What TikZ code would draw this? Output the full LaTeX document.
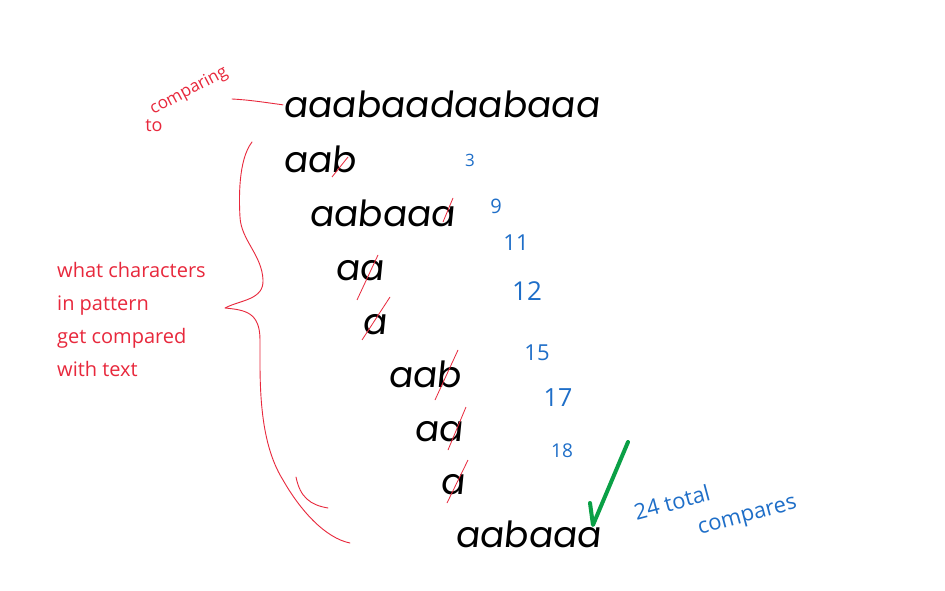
\documentclass[tikz,border=0pt]{standalone}
\usepackage{fontspec}
\newfontfamily\hand[FakeSlant=0.1]{Poppins}
\newfontfamily\note{Open Sans}
\definecolor{inkred}{RGB}{232,40,60}
\definecolor{inkblue}{RGB}{30,110,200}
\definecolor{inkgreen}{RGB}{10,160,70}
\tikzset{
  row/.style={anchor=base west, inner sep=0pt, font=\hand\fontsize{36}{36}\selectfont},
  num/.style={text=inkblue, inner sep=0pt, font=\note\fontsize{22}{22}\selectfont},
  rednote/.style={text=inkred, inner sep=0pt, font=\note\fontsize{20}{33}\selectfont, align=left},
  strike/.style={draw=inkred, line width=0.8pt},
  redline/.style={draw=inkred, line width=0.9pt, line cap=round, line join=round},
}
\begin{document}
\begin{tikzpicture}[x=1pt,y=-1pt]
\useasboundingbox[fill=white] (0,0) rectangle (945,591);
% black rows
\node[row] (t0) at (283,118) {aaabaadaabaaa};
\node[row] (r1) at (283,172) {aab};
\node[row] (r2) at (309,226) {aabaaa};
\node[row] (r3) at (335,280) {aa};
\node[row] (r4) at (362,334) {a};
\node[row] (r5) at (388,387) {aab};
\node[row] (r6) at (414,441) {aa};
\node[row] (r7) at (440,494) {a};
\node[row] (r8) at (455,547) {aabaaa};
% strikes
\coordinate (s1a) at (332,177); \coordinate (s1b) at (348,157);
\coordinate (s2a) at (443,222); \coordinate (s2b) at (453,198);
\coordinate (s3a) at (357,300); \coordinate (s3b) at (378,255);
\coordinate (s4a) at (362,340); \coordinate (s4b) at (390,297);
\coordinate (s5a) at (435,400); \coordinate (s5b) at (458,350);
\coordinate (s6a) at (448,450); \coordinate (s6b) at (466,407);
\coordinate (s7a) at (447,503); \coordinate (s7b) at (468,460);
\foreach \i in {1,...,7} {\draw[strike] (s\i a) -- (s\i b);}
% blue counts
\node[num, font=\note\fontsize{17}{17}\selectfont] (n1) at (470,160) {3};
\node[num, font=\note\fontsize{20}{20}\selectfont] (n2) at (496,206) {9};
\node[num] (n3) at (516,243) {11};
\node[num, font=\note\fontsize{26}{26}\selectfont] (n4) at (527,291) {12};
\node[num] (n5) at (537,353) {15};
\node[num, font=\note\fontsize{25}{25}\selectfont] (n6) at (558,398) {17};
\node[num, font=\note\fontsize{19}{19}\selectfont] (n7) at (562,451) {18};
\node[num, font=\note\fontsize{22}{22}\selectfont, rotate=15] (tot) at (672,502) {24 total};
\node[num, font=\note\fontsize{22}{22}\selectfont, rotate=15] (cmp) at (748,518) {compares};
% green check
\coordinate (c1) at (590,503); \coordinate (c2) at (593,525); \coordinate (c3) at (628,442);
\draw[inkgreen, line width=4pt, line join=round, line cap=round] (c1) -- (c2) -- (c3);
% red notes
\node[rednote, font=\note\fontsize{17}{17}\selectfont, rotate=28] (cmpg) at (189,91) {comparing};
\node[rednote, font=\note\fontsize{18}{18}\selectfont] (to) at (154,126) {to};
\coordinate (l1) at (232,99);
\draw[redline] (l1) .. controls (250,100) and (262,102) .. (t0.west);
\node[rednote, anchor=north west] (what) at (57,262) {what characters\\in pattern\\get compared\\with text};
% brace
\coordinate (b0) at (252,142);
\coordinate (tip) at (225,308);
\coordinate (b9) at (350,543);
\draw[redline] (b0) .. controls (238,160) and (239,200) .. (240,217)
  .. controls (241,240) and (262,255) .. (263,280)
  .. controls (264,300) and (240,300) .. (tip)
  .. controls (245,310) and (260,312) .. (260,340)
  .. controls (260,380) and (258,440) .. (283,480)
  .. controls (300,510) and (325,538) .. (b9);
\coordinate (x1) at (296,477); \coordinate (x2) at (328,508);
\draw[redline] (x1) .. controls (300,497) and (310,505) .. (x2);
\end{tikzpicture}
\end{document}
